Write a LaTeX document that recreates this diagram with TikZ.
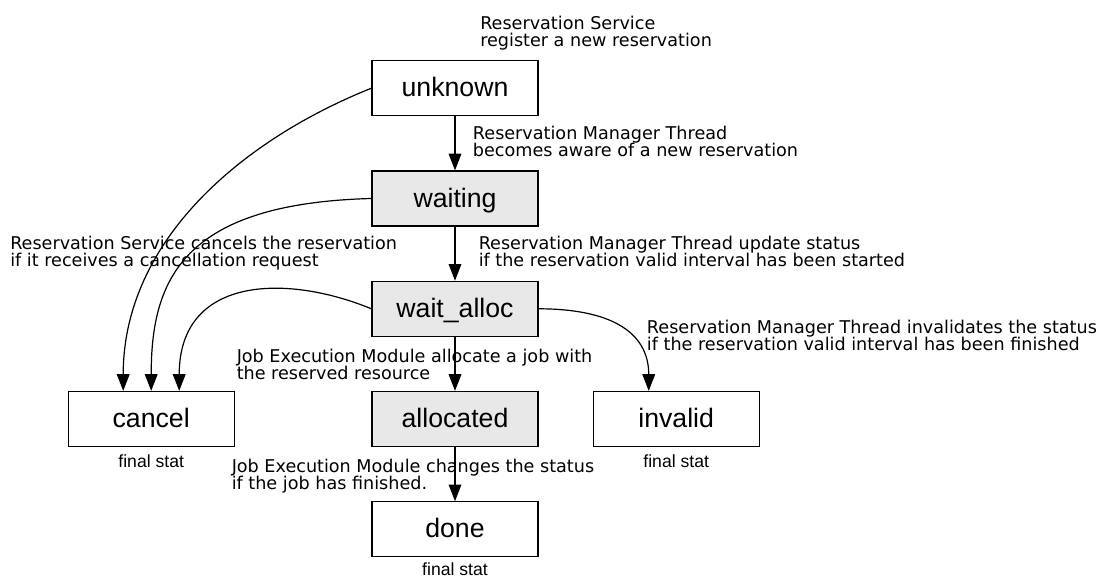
\documentclass[tikz,border=0pt]{standalone}
\usepackage{fontspec}
\setmainfont{DejaVu Sans}
\newfontfamily\boxfont{Liberation Sans}
\usetikzlibrary{arrows.meta}
\definecolor{statefill}{RGB}{232,232,232}
\tikzset{
  state/.style={draw, line width=0.9pt, minimum width=124.5pt, minimum height=41.25pt,
    inner sep=0pt, text height=14.5pt, text depth=1.7pt,
    font=\boxfont\fontsize{20pt}{24pt}\selectfont},
  busy/.style={state, fill=statefill},
  note/.style={anchor=base west, inner sep=0pt, align=left,
    font=\fontsize{13.2pt}{12.8pt}\selectfont},
  finalstat/.style={anchor=base, inner sep=0pt,
    font=\boxfont\fontsize{13.2pt}{15pt}\selectfont},
}
\begin{document}
\begin{tikzpicture}[x=0.75pt,y=-0.75pt]
  \useasboundingbox (0,0) rectangle (1098,577);
  \draw
    (455,88.2) node[state] (unknown){unknown}
    (455,198.5) node[busy] (waiting){waiting}
    (455,308.8) node[busy] (waitalloc){wait\_alloc}
    (151.2,419) node[state] (cancel){cancel}
    (455,419) node[busy] (allocated){allocated}
    (676.2,419) node[state] (invalid){invalid}
    (455,529.3) node[state] (done){done};
  % final states
  \node[finalstat] (cancelfin) at ([yshift=-15pt]cancel.south) {final stat};
  \node[finalstat] (invalidfin) at ([yshift=-15pt]invalid.south) {final stat};
  \node[finalstat] (donefin) at ([yshift=-13.5pt]done.south) {final stat};
  % transition texts
  \node[note] (regnote) at (480,46.3) {Reservation Service\\register a new reservation};
  \node[note] (awarenote) at (472.7,157) {Reservation Manager Thread\\becomes aware of a new reservation};
  \node[note] (cancelnote) at (10,266.3) {Reservation Service cancels the reservation\\if it receives a cancellation request};
  \node[note] (startnote) at (478.5,267) {Reservation Manager Thread update status\\if the reservation valid interval has been started};
  \node[note] (invalidnote) at (646.7,350.3) {Reservation Manager Thread invalidates the status\\if the reservation valid interval has been finished};
  \node[note] (allocnote) at (236.5,379.7) {Job Execution Module allocate a job with\\the reserved resource};
  \node[note] (donenote) at (231.5,489.7) {Job Execution Module changes the status\\if the job has finished.};
  \begin{scope}[-{Triangle[width=9.5pt,length=12.5pt]}, line width=0.9pt]
    \draw (unknown) to (waiting);
    \draw (waiting) to (waitalloc);
    \draw (waitalloc) to (allocated);
    \draw (allocated) to (done);
    \draw (unknown.west) .. controls +(-130,52) and +(0,-150) .. ([xshift=-21pt]cancel.north);
    \draw (waiting.west) .. controls +(-190,5) and +(0,-110) .. (cancel.north);
    \draw (waitalloc.west) .. controls +(-85,-35) and +(0,-115) .. ([xshift=21pt]cancel.north);
    \draw (waitalloc.east) .. controls +(70,0) and +(0,-60) .. ([xshift=-20.6pt]invalid.north);
  \end{scope}
\end{tikzpicture}
\end{document}
